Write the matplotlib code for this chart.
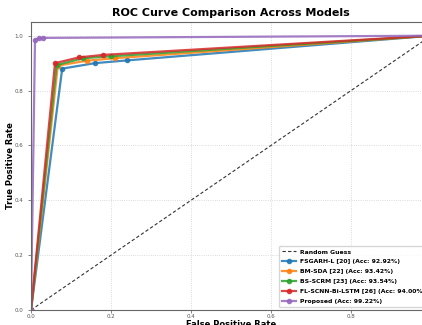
import matplotlib
matplotlib.use("Agg")
import matplotlib.pyplot as plt

models = ["FSGARH-L [20] (Acc: 92.92%)", "BM-SDA [22] (Acc: 93.42%)",
          "BS-SCRM [23] (Acc: 93.54%)", "FL-SCNN-Bi-LSTM [26] (Acc: 94.00%)",
          "Proposed (Acc: 99.22%)"]
fpr_fsgarh = [0.0, 0.078, 0.16, 0.24, 1.0]
tpr_fsgarh = [0.0, 0.880, 0.900, 0.910, 1.0]
fpr_bmsda = [0.0, 0.067, 0.14, 0.21, 1.0]
tpr_bmsda = [0.0, 0.891, 0.909, 0.918, 1.0]
fpr_bsscrm = [0.0, 0.064, 0.13, 0.20, 1.0]
tpr_bsscrm = [0.0, 0.893, 0.918, 0.925, 1.0]
fpr_flscnn = [0.0, 0.060, 0.12, 0.18, 1.0]
tpr_flscnn = [0.0, 0.900, 0.921, 0.930, 1.0]
fpr_prop = [0.0, 0.010, 0.020, 0.030, 1.0]
tpr_prop = [0.0, 0.985, 0.990, 0.992, 1.0]
colors = ["#1f77b4", "#ff7f0e", "#2ca02c", "#d62728", "#9467bd"]
xticks = [0.0, 0.2, 0.4, 0.6, 0.8]
yticks = [0.0, 0.2, 0.4, 0.6, 0.8, 1.0]

fig = plt.figure(figsize=(4.22, 3.25), dpi=100)
ax = fig.add_axes([31/422, 15/325, 400/422, 288/325])

ax.plot([0, 1], [0, 1], color="#333333", ls=(0, (3, 2)), lw=0.8, label="Random Guess")
series = [(fpr_fsgarh, tpr_fsgarh), (fpr_bmsda, tpr_bmsda), (fpr_bsscrm, tpr_bsscrm),
          (fpr_flscnn, tpr_flscnn), (fpr_prop, tpr_prop)]
for (f, t), lab, c in zip(series, models, colors):
    ax.plot(f, t, color=c, lw=1.6, marker="o", ms=3, alpha=0.85, label=lab)

ax.set_xlim(0, 1)
ax.set_ylim(0, 1.05)
ax.set_xticks(xticks)
ax.set_yticks(yticks)
ax.tick_params(labelsize=4, length=2, width=0.5, colors="#555555")
ax.tick_params(axis="x", pad=1.2)
ax.grid(True, ls=":", lw=0.6, alpha=0.6)
ax.set_title("ROC Curve Comparison Across Models", fontsize=8, fontweight="bold", pad=4)
ax.set_xlabel("False Positive Rate", fontsize=6, fontweight="bold")
ax.set_ylabel("True Positive Rate", fontsize=6, fontweight="bold")
ax.yaxis.set_label_coords(-0.04, 0.5)
ax.xaxis.set_label_coords(0.5, -0.035)
for s in ax.spines.values():
    s.set_color("#666666")
    s.set_linewidth(0.8)
leg = ax.legend(loc="lower right", bbox_to_anchor=(1.0, 0.0), prop={"size": 4.4, "weight": "bold"},
                frameon=True, handlelength=2.3, borderpad=0.5, labelspacing=0.75,
                handletextpad=0.6)
fig.savefig("out.png", dpi=100)
